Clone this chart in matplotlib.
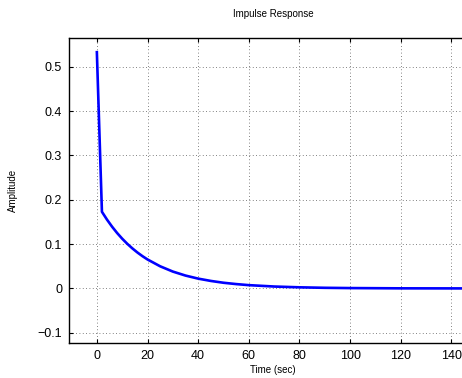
"""Impulse response plot in MATLAB style."""

import matplotlib
matplotlib.use('Agg')
import matplotlib.pyplot as plt

plt.rcParams['font.family'] = ['Liberation Sans', 'DejaVu Sans']

# data
time = [0, 2, 4, 6, 8, 10, 12, 14, 16, 18, 20, 25, 30, 35, 40, 45, 50,
        55, 60, 70, 80, 90, 100, 120, 150]
amplitude = [0.533, 0.173, 0.1553, 0.1394, 0.1251, 0.1123, 0.1008, 0.0905,
             0.0812, 0.0729, 0.0654, 0.0500, 0.0381, 0.0291, 0.0222, 0.0170,
             0.0129, 0.0099, 0.0075, 0.0044, 0.0026, 0.0015, 0.0009, 0.0003,
             0.0001]
xticks = [0, 20, 40, 60, 80, 100, 120, 140]
yticks = [-0.1, 0, 0.1, 0.2, 0.3, 0.4, 0.5]
yticklabels = ['\u22120.1', '0', '0.1', '0.2', '0.3', '0.4', '0.5']


def main():
    fig = plt.figure(figsize=(4.62, 3.78), dpi=100)
    ax = fig.add_axes([69 / 462, 35 / 378, 0.8827, 305 / 378])

    ax.plot(time, amplitude, color='#0000ff', lw=1.9, zorder=3)

    ax.set_xlim(-11, 150)
    ax.set_ylim(-0.123, 0.565)
    ax.set_xticks(xticks)
    ax.set_yticks(yticks)
    ax.set_yticklabels(yticklabels)

    ax.grid(True, color='0.35', linestyle=(0, (1, 3)), lw=0.6)
    ax.tick_params(direction='in', top=True, right=True, labelsize=9,
                   length=3, width=0.8, pad=5)
    for spine in ax.spines.values():
        spine.set_linewidth(1.0)

    ax.set_title('Impulse Response', fontsize=7, pad=15)
    ax.set_xlabel('Time (sec)', fontsize=7, labelpad=2)
    ax.set_ylabel('Amplitude', fontsize=7, labelpad=14)

    fig.savefig('out.png', dpi=100)


if __name__ == '__main__':
    main()
